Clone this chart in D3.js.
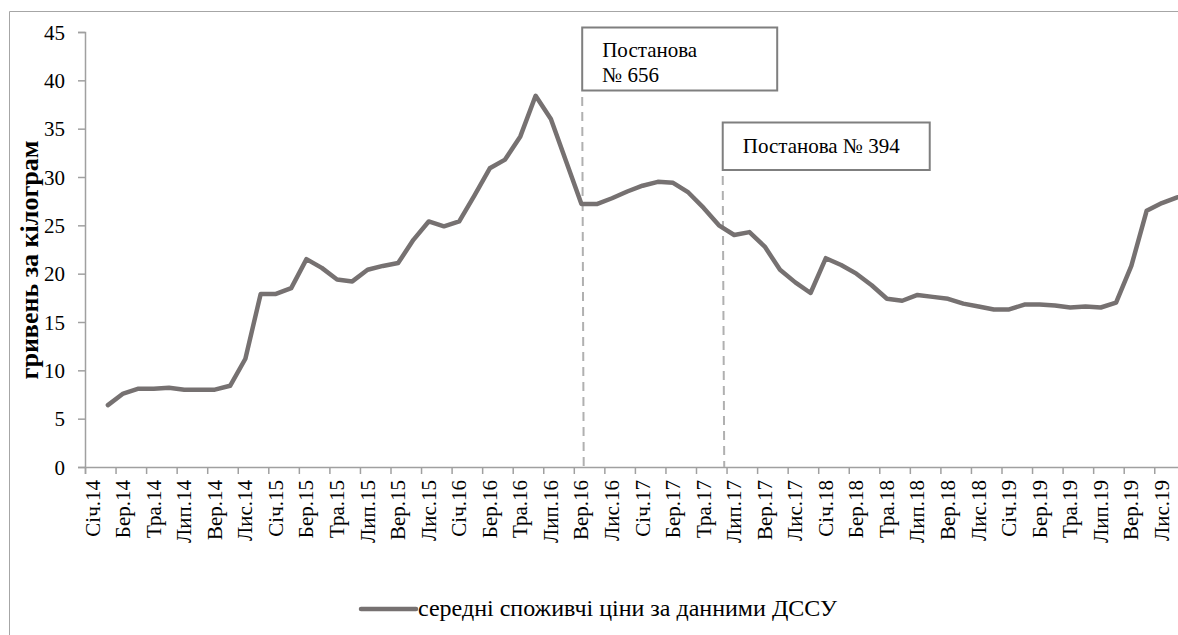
<!DOCTYPE html>
<html>
<head>
<meta charset="utf-8">
<script src="https://cdnjs.cloudflare.com/ajax/libs/d3/7.8.5/d3.min.js"></script>
<style>
  body { margin: 0; background: #fff; }
  svg { display: block; }
</style>
</head>
<body>
<svg id="chart" width="1178" height="635"></svg>
<script>
// ---- data ----
const monthNames = ["Січ", "Лют", "Бер", "Кві", "Тра", "Чер", "Лип", "Сер", "Вер", "Жов", "Лис", "Гру"];
const years = ["14", "15", "16", "17", "18", "19"];
const categories = [];
years.forEach(y => monthNames.forEach(m => categories.push(m + "." + y)));

// гривень за кілограм, Січ.14 .. Гру.19 (Січ.14 has no value)
const prices = [
  null, 6.4, 7.6, 8.1, 8.1, 8.2, 8.0, 8.0, 8.0, 8.4, 11.2, 17.9,
  17.9, 18.5, 21.5, 20.6, 19.4, 19.2, 20.4, 20.8, 21.1, 23.5, 25.4, 24.9,
  25.4, 28.1, 30.9, 31.8, 34.2, 38.4, 36.0, 31.6, 27.2, 27.2, 27.8, 28.5,
  29.1, 29.5, 29.4, 28.4, 26.8, 25.0, 24.0, 24.3, 22.8, 20.4, 19.1, 18.0,
  21.6, 20.9, 20.0, 18.8, 17.4, 17.2, 17.8, 17.6, 17.4, 16.9, 16.6, 16.3,
  16.3, 16.8, 16.8, 16.7, 16.5, 16.6, 16.5, 17.0, 20.8, 26.5, 27.3, 27.9
];
const yTicks = [0, 5, 10, 15, 20, 25, 30, 35, 40, 45];
const seriesName = "середні споживчі ціни за данними ДССУ";
const yTitle = "гривень за кілограм";
const notes = [
  { lines: ["Постанова", "№ 656"], at: 32.55 },
  { lines: ["Постанова № 394"], at: 41.75 }
];

// ---- layout ----
const FONT = "font-family:'Liberation Serif',serif";
const svg = d3.select("#chart");
const plotLeft = 85, plotTop = 32, plotBottom = 467;
const step = 15.275;
const x = d3.scaleLinear().domain([0, categories.length]).range([plotLeft, plotLeft + step * categories.length]);
const y = d3.scaleLinear().domain([0, 45]).range([plotBottom, plotTop]);
const axisColor = "#a0a0a0";

// outer chart border (right/bottom fall outside the picture)
svg.append("path")
  .attr("d", "M9.5,635 L9.5,11.5 L1178,11.5")
  .attr("fill", "none").attr("stroke", "#a6a6a6").attr("stroke-width", 1);

// y axis
const yAxis = svg.append("g").attr("transform", `translate(${plotLeft},0)`)
  .call(d3.axisLeft(y).tickValues(yTicks).tickSize(7).tickFormat(d3.format("d")));
yAxis.select(".domain").attr("stroke", axisColor).attr("stroke-width", 1.5);
yAxis.selectAll(".tick line").attr("stroke", axisColor).attr("stroke-width", 1.5);
yAxis.selectAll(".tick text")
  .attr("x", -20).attr("dy", "0.34em")
  .attr("style", FONT).attr("font-size", 21).attr("fill", "#000");

// x axis: ticks on category boundaries every 2 months
const boundaries = d3.range(0, categories.length + 1, 2);
const xAxis = svg.append("g").attr("transform", `translate(0,${plotBottom})`)
  .call(d3.axisBottom(x).tickValues(boundaries).tickSize(7).tickFormat(""));
xAxis.select(".domain").attr("stroke", axisColor).attr("stroke-width", 1.5);
xAxis.selectAll(".tick line").attr("stroke", axisColor).attr("stroke-width", 1.5);

// x labels at centres of every second category
svg.append("g").selectAll("text")
  .data(categories.filter((c, i) => i % 2 === 0))
  .join("text")
  .attr("transform", (d, i) => `translate(${x(i * 2 + 0.5) + 7},480) rotate(-90)`)
  .attr("text-anchor", "end")
  .attr("style", FONT)
  .attr("font-size", 21)
  .attr("fill", "#000")
  .text(d => d);

// y axis title
svg.append("text")
  .attr("transform", "translate(38,260) rotate(-90)")
  .attr("text-anchor", "middle")
  .attr("style", FONT)
  .attr("font-size", 26).attr("font-weight", "bold")
  .attr("fill", "#000")
  .text(yTitle);

// dashed markers and note boxes
const noteBoxes = [
  { top: 27.5, w: 195, h: 63, lineTop: 97 },
  { top: 122.5, w: 207, h: 47.5, lineTop: 176 }
];
notes.forEach((n, k) => {
  const b = noteBoxes[k];
  const nx = x(n.at);
  svg.append("line")
    .attr("x1", nx).attr("x2", nx + 1.5)
    .attr("y1", b.lineTop).attr("y2", plotBottom)
    .attr("stroke", "#b0b0b0").attr("stroke-width", 2)
    .attr("stroke-dasharray", "9,6");
  svg.append("rect")
    .attr("x", nx).attr("y", b.top).attr("width", b.w).attr("height", b.h)
    .attr("fill", "#fff").attr("stroke", "#7f7f7f").attr("stroke-width", 2);
  const t = svg.append("text")
    .attr("style", FONT)
    .attr("font-size", 21).attr("fill", "#000");
  n.lines.forEach((ln, j) => {
    t.append("tspan")
      .attr("x", nx + 20)
      .attr("y", b.top + (n.lines.length > 1 ? 29 + j * 25 : 30))
      .text(ln);
  });
});

// series line
const line = d3.line()
  .defined(d => d != null)
  .x((d, i) => x(i + 0.5))
  .y(d => y(d));
svg.append("path")
  .datum(prices)
  .attr("d", line)
  .attr("fill", "none")
  .attr("stroke", "#767171")
  .attr("stroke-width", 4.5)
  .attr("stroke-linejoin", "round")
  .attr("stroke-linecap", "round");

// legend
const lg = svg.append("g").attr("transform", "translate(361,609)");
lg.append("line").attr("x1", 0).attr("x2", 55).attr("y1", 0).attr("y2", 0)
  .attr("stroke", "#767171").attr("stroke-width", 4.5).attr("stroke-linecap", "round");
lg.append("text").attr("x", 57).attr("y", 7)
  .attr("style", FONT)
  .attr("font-size", 24).attr("fill", "#000")
  .text(seriesName);
</script>
</body>
</html>
